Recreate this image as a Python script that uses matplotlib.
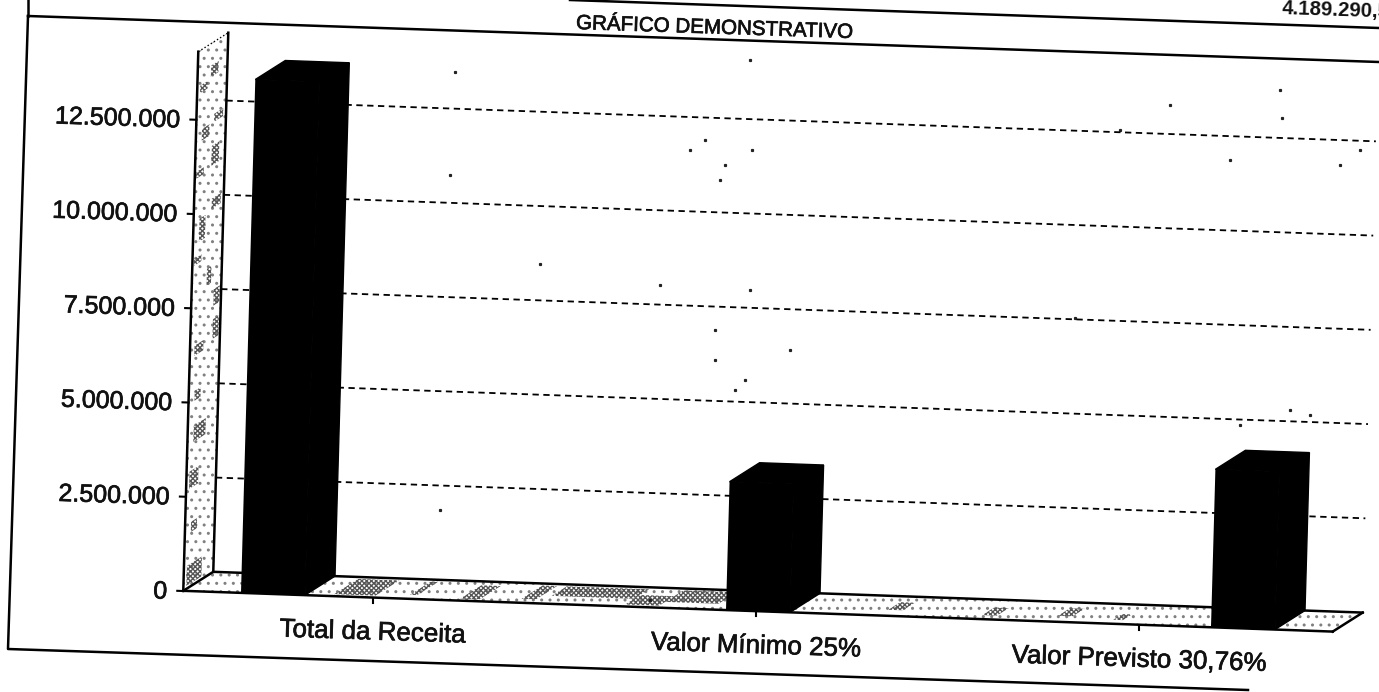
import matplotlib
matplotlib.use('Agg')
import matplotlib.pyplot as plt
import matplotlib.patheffects as pe
from matplotlib.transforms import Affine2D

categorias = ['Total da Receita', 'Valor Mínimo 25%', 'Valor Previsto 30,76%']
valores = [13617000, 3404000, 4189290]
ticks = [0, 2500000, 5000000, 7500000, 10000000, 12500000]
tick_labels = ['0', '2.500.000', '5.000.000', '7.500.000', '10.000.000', '12.500.000']
valor_topo = 14300000

# manchas da textura: (valor ini, valor fim, fundo ini, fundo fim), valores em milhoes
manchas_parede = [
    (13.93, 13.63, .45, .7), (13.4, 13.2, .1, .35), (12.65, 12.44, .6, .9), (12.25, 11.94, .2, .45),
    (11.8, 11.27, .55, .8), (11.11, 10.93, .05, .3), (10.4, 10.13, .6, .9), (9.87, 9.26, .2, .4),
    (8.8, 8.62, .05, .3), (8.54, 8.09, .5, .65), (8.0, 7.56, .75, .95), (7.2, 6.68, .75, .95),
    (6.5, 6.23, .15, .45), (5.3, 5.04, .2, .4), (4.38, 3.95, .2, .6), (3.16, 2.7, .1, .4),
    (1.83, 1.56, .2, .4), (0.66, 0.13, .1, .6),
]
# (categoria ini, categoria fim, fundo ini, fundo fim)
manchas_piso = [
    (.12, .205, .1, .9), (.27, .285, .2, .9), (.38, .42, .1, .8), (.5, .53, .2, .9), (.55, .72, .4, .9),
    (.72, .79, .1, .6), (.79, .9, .3, .9), (.93, .95, .1, .7), (1.25, 1.28, .3, .7), (1.45, 1.48, .2, .6),
    (1.6, 1.63, .3, .7), (1.72, 1.74, .2, .5),
]
# sujeira do escaneamento
sujeira_x = [455, 450, 540, 660, 690, 705, 725, 750, 752, 720, 715, 745, 790, 715, 735, 750, 1280, 1282,
             1170, 1230, 1360, 1340, 1240, 1120, 440, 650, 1075, 1290, 1310]
sujeira_y = [72, 175, 264, 285, 150, 140, 165, 60, 150, 180, 330, 380, 350, 360, 390, 290, 90, 118,
             105, 160, 150, 165, 425, 130, 510, 600, 318, 410, 415]

plt.rcParams['font.family'] = ['Liberation Sans', 'DejaVu Sans']
plt.rcParams['hatch.linewidth'] = 1.0

fig = plt.figure(figsize=(13.79, 6.92), dpi=100)
ax = fig.add_axes([0, 0, 1, 1])
ax.set_xlim(0, 1379)
ax.set_ylim(692, 0)
ax.axis('off')

# folha escaneada torta: categoria/valor -> pixel
T = Affine2D.from_values(485, 17.2, 1.05e-6, -37.7e-6, 273, 594)
dx, dy = 30, -19
x_ini, x_fim = -0.185, 2.185
largura = 0.132
inclinacao = -1.9
tinta = [pe.withStroke(linewidth=0.5, foreground='#111111')]


def p(i, v, fundo=0):
    x, y = T.transform((i, v))
    return (x + dx * fundo, y + dy * fundo)


def textura(pts, hatch='..', cor='#808080'):
    ax.fill(*zip(*pts), facecolor='none', edgecolor=cor, hatch=hatch, linewidth=0, zorder=1)


# parede e piso
parede = [p(x_ini, 0), p(x_ini, valor_topo), p(x_ini, valor_topo, 1), p(x_ini, 0, 1)]
piso = [p(x_ini, 0), p(x_fim, 0), p(x_fim, 0, 1), p(x_ini, 0, 1)]
textura(parede)
textura(piso)
for v0, v1, f0, f1 in manchas_parede:
    m0, m1 = (v0 - 0.5 * f0) * 1e6, (v1 - 0.5 * f0) * 1e6
    textura([p(x_ini, m0, f0), p(x_ini, m1, f0), p(x_ini, m1, f1), p(x_ini, m0, f1)], 'xxxxxxx', '#555555')
for c0, c1, f0, f1 in manchas_piso:
    textura([p(c0, 0, f0), p(c1, 0, f0), p(c1, 0, f1), p(c0, 0, f1)], 'xxxxxxx', '#555555')

for a, b in [(parede[0], parede[1]), (parede[3], parede[2]), (parede[0], parede[3]),
             (piso[0], piso[1]), (piso[3], piso[2]), (piso[1], piso[2])]:
    ax.plot([a[0], b[0]], [a[1], b[1]], color='k', lw=1.8, zorder=2)
ax.plot([parede[1][0], parede[2][0]], [parede[1][1], parede[2][1]], color='k', lw=1, ls=':', zorder=2)

# grade e eixo y
for v, txt in zip(ticks, tick_labels):
    a = p(x_ini, v)
    if v > 0:
        b, c = p(x_ini, v, 1), p(x_fim, v, 1)
        ax.plot([b[0], c[0]], [b[1], c[1]], color='k', lw=1.3, dashes=(3.5, 2.5), zorder=2)
    ax.plot([a[0] - 6, a[0]], [a[1], a[1] + 0.2], color='k', lw=1.5, zorder=2)
    ax.text(a[0] - 16, a[1] + 1, txt, ha='right', va='center', fontsize=18, rotation=inclinacao,
            rotation_mode='anchor', color='#111111', path_effects=tinta)

# barras
idx = list(range(len(categorias)))
ax.bar(idx, valores, largura, color='k', transform=T + ax.transData, zorder=3)
for i, v in zip(idx, valores):
    e, d = i - largura / 2, i + largura / 2
    topo = [p(e, v), p(d, v), p(d, v, 1), p(e, v, 1)]
    lado = [p(d, 0), p(d, v), p(d, v, 1), p(d, 0, 1)]
    ax.fill(*zip(*topo), color='k', zorder=3)
    ax.fill(*zip(*lado), color='k', zorder=3)

# categorias ficam centradas nas marcas do eixo x, nao nas barras
for n, nome in enumerate(categorias):
    pos = 0.206 + 0.79 * n
    x, y = p(pos, 0)
    ax.plot([x, x], [y, y + 5], color='k', lw=1.5, zorder=2)
    ax.text(x, y + 35, nome, ha='center', va='center', fontsize=18.7, rotation=inclinacao,
            rotation_mode='anchor', color='#111111', path_effects=tinta)

ax.plot(sujeira_x, sujeira_y, ls='none', marker='s', ms=1.3, color='#222222', zorder=1)

# moldura do quadro
ax.plot([28, 8, 1248], [16, 649, 690], color='k', lw=1.8)
ax.plot([28, 1379], [16, 62], color='k', lw=1.8)
ax.plot([28, 28], [0, 16], color='k', lw=1.8)
ax.plot([570, 1379], [0, 28], color='k', lw=1.8)

ax.text(714, 28, 'GRÁFICO DEMONSTRATIVO', ha='center', va='center', fontsize=14.8, rotation=inclinacao,
        rotation_mode='anchor', color='#111111', path_effects=tinta)
ax.text(1282, 9, '4.189.290,50', ha='left', va='center', fontsize=14.7, fontweight='bold',
        rotation=inclinacao, rotation_mode='anchor', color='#111111')

fig.savefig('out.png', dpi=100)
plt.close(fig)
